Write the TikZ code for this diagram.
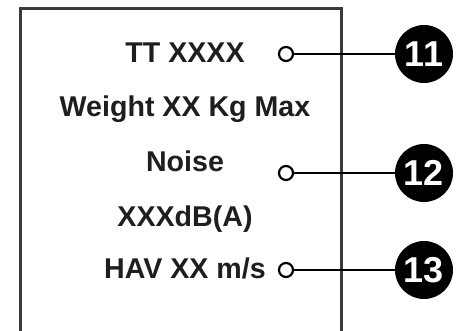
\documentclass[tikz,border=0pt]{standalone}
\usepackage{fontspec}
\setmainfont{Liberation Sans}
\usepackage{tikz}
\usetikzlibrary{positioning}
\definecolor{plategray}{HTML}{3A3A3A}
\definecolor{inkblack}{HTML}{1E1E1E}

\begin{document}
\begin{tikzpicture}[x=1pt,y=1pt,
    platetext/.style={font=\fontsize{28.6}{30}\selectfont\bfseries,text=inkblack,inner sep=0pt,anchor=base},
    pindot/.style={circle,draw=black,fill=white,line width=2.2pt,minimum size=14pt,inner sep=0pt},
    callout/.style={circle,fill=black,text=white,minimum size=58pt,inner sep=0pt,
      font=\fontsize{36}{36}\selectfont\bfseries},
    leader/.style={draw=black,line width=2pt}]
  \useasboundingbox (0,0) rectangle (463,331);
  % Plate outline (open at the bottom edge)
  \draw[plategray,line width=3pt] (20,-5) -- (20,322) -- (341,322) -- (341,-5);
  % Plate texts
  \def\cx{185}
  \node[platetext] (type)   at (\cx,268) {TT XXXX};
  \node[platetext] (weight) at (\cx,214) {Weight XX Kg Max};
  \node[platetext] (noise)  at (\cx,159) {Noise};
  \node[platetext] (level)  at (\cx,104) {XXXdB(A)};
  \node[platetext] (hav)    at (\cx,52)  {HAV XX m/s};
  % Callouts 11, 12, 13
  \foreach \y/\n in {277/11, 158/12, 61/13} {
    \node[pindot]  (dot\n) at (286,\y) {};
    \node[callout] (num\n) at (424,\y) {\n};
    \draw[leader] (dot\n) -- (num\n);
  }
\end{tikzpicture}
\end{document}
